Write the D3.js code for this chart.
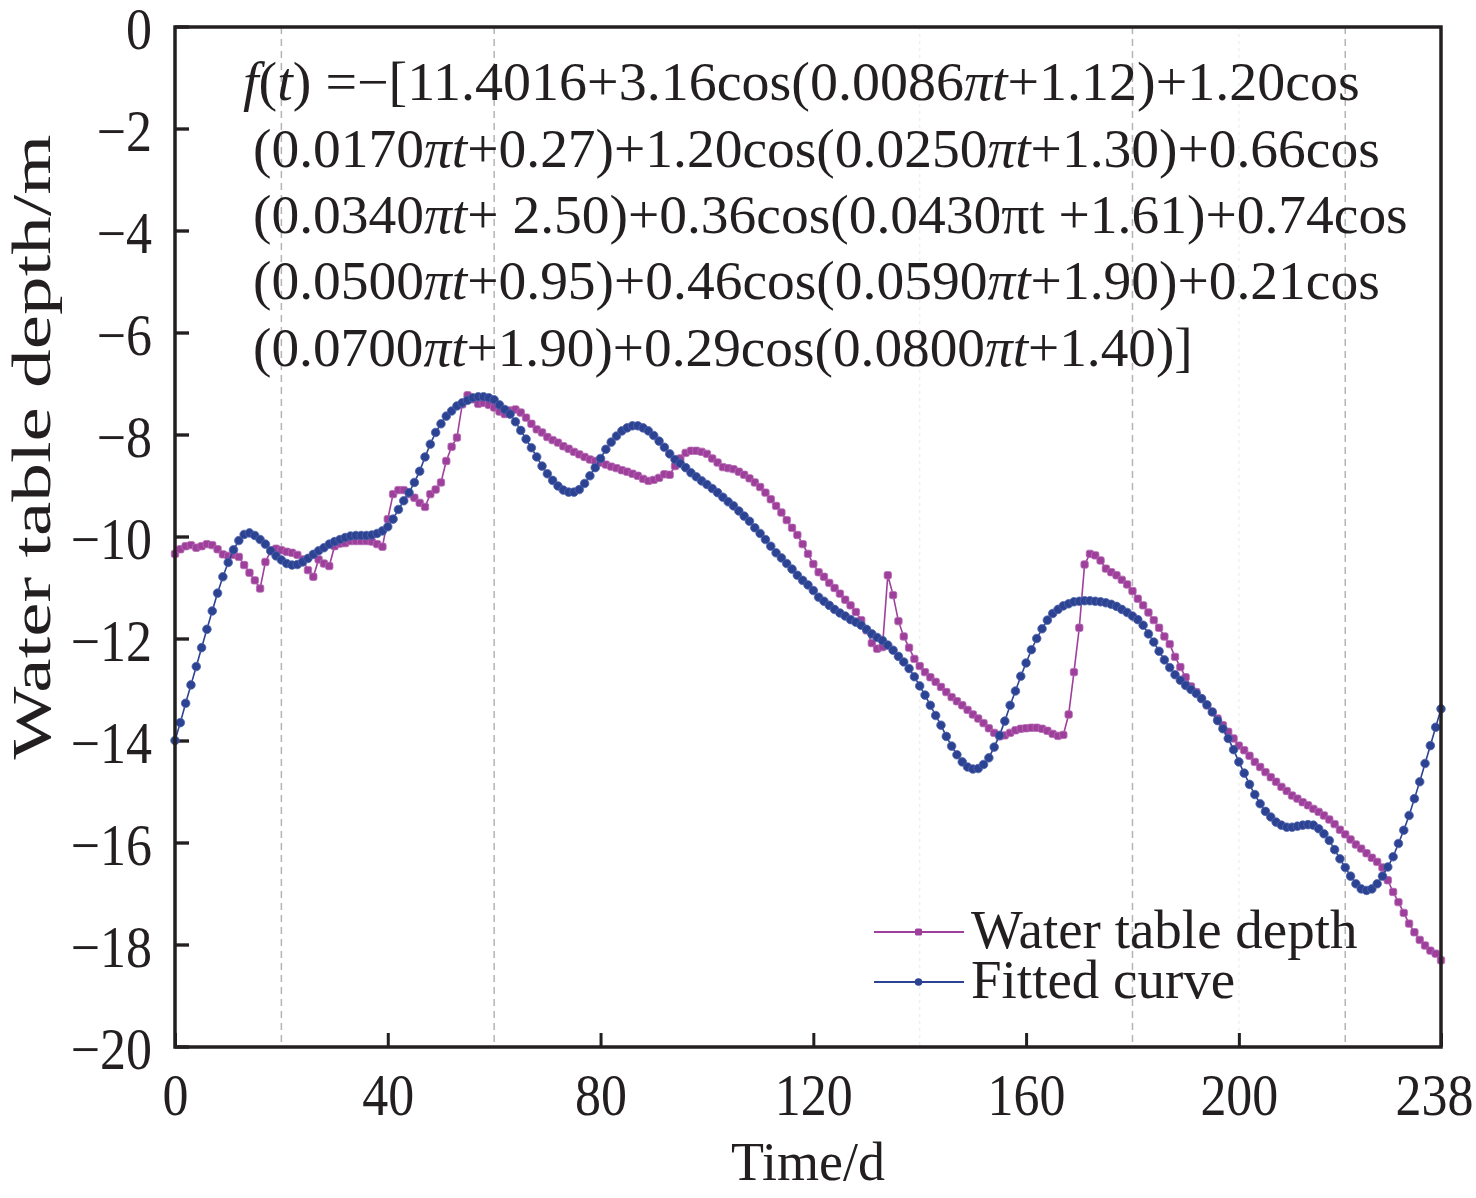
<!DOCTYPE html>
<html>
<head>
<meta charset="utf-8">
<script src="https://cdn.jsdelivr.net/npm/d3@7"></script>
<style>
  body { margin: 0; background: #fff; }
  text { font-family: "Liberation Serif", "Times New Roman", serif; fill: #231f20; }
</style>
</head>
<body>
<svg id="chart" width="1476" height="1198"></svg>
<script>
// observed water table depth, one value per day (t = 0..238)
const depth = [
  -10.33, -10.24, -10.18, -10.16, -10.21, -10.18, -10.14, -10.16, -10.24, -10.34,
  -10.37, -10.35, -10.39, -10.55, -10.70, -10.85, -11.01, -10.49, -10.27, -10.23,
  -10.26, -10.29, -10.31, -10.35, -10.44, -10.65, -10.78, -10.44, -10.52, -10.57,
  -10.18, -10.13, -10.12, -10.08, -10.08, -10.08, -10.08, -10.09, -10.14, -10.19,
  -9.65, -9.16, -9.08, -9.08, -9.16, -9.23, -9.33, -9.41, -9.16, -9.07,
  -8.93, -8.51, -8.23, -8.05, -7.40, -7.22, -7.30, -7.39, -7.37, -7.41,
  -7.46, -7.54, -7.59, -7.52, -7.50, -7.56, -7.66, -7.78, -7.89, -7.95,
  -8.04, -8.10, -8.15, -8.22, -8.27, -8.33, -8.38, -8.43, -8.48, -8.51,
  -8.54, -8.58, -8.62, -8.65, -8.69, -8.72, -8.76, -8.80, -8.86, -8.90,
  -8.88, -8.84, -8.77, -8.78, -8.61, -8.46, -8.35, -8.31, -8.31, -8.33,
  -8.37, -8.46, -8.54, -8.63, -8.65, -8.67, -8.72, -8.78, -8.85, -8.93,
  -9.02, -9.13, -9.26, -9.39, -9.52, -9.67, -9.82, -9.96, -10.14, -10.33,
  -10.53, -10.69, -10.78, -10.90, -11.00, -11.11, -11.23, -11.34, -11.47, -11.63,
  -11.83, -12.08, -12.19, -12.16, -10.75, -11.14, -11.65, -11.95, -12.17, -12.39,
  -12.53, -12.65, -12.75, -12.84, -12.94, -13.04, -13.14, -13.22, -13.30, -13.39,
  -13.48, -13.56, -13.65, -13.75, -13.84, -13.91, -13.89, -13.84, -13.79, -13.76,
  -13.75, -13.74, -13.74, -13.76, -13.80, -13.86, -13.90, -13.88, -13.48, -12.65,
  -11.78, -10.54, -10.33, -10.36, -10.46, -10.62, -10.69, -10.75, -10.84, -10.93,
  -11.06, -11.21, -11.34, -11.48, -11.63, -11.78, -11.95, -12.10, -12.35, -12.55,
  -12.75, -12.93, -13.04, -13.17, -13.30, -13.43, -13.56, -13.69, -13.82, -13.95,
  -14.09, -14.18, -14.29, -14.41, -14.51, -14.61, -14.71, -14.80, -14.90, -14.98,
  -15.07, -15.13, -15.20, -15.26, -15.33, -15.39, -15.46, -15.54, -15.63, -15.74,
  -15.83, -15.93, -16.03, -16.11, -16.20, -16.29, -16.37, -16.48, -16.73, -16.96,
  -17.16, -17.37, -17.58, -17.75, -17.90, -18.01, -18.11, -18.17, -18.30
];

// fitted curve, t = 0..238
const fitted = [
  -13.99, -13.64, -13.26, -12.90, -12.54, -12.17, -11.81, -11.45, -11.10, -10.78,
  -10.50, -10.25, -10.07, -9.95, -9.92, -9.97, -10.05, -10.14, -10.27, -10.37,
  -10.45, -10.52, -10.55, -10.54, -10.49, -10.42, -10.34, -10.27, -10.21, -10.14,
  -10.09, -10.05, -10.01, -9.98, -9.97, -9.97, -9.97, -9.96, -9.93, -9.88,
  -9.80, -9.65, -9.46, -9.29, -9.13, -8.93, -8.71, -8.43, -8.18, -7.95,
  -7.78, -7.63, -7.53, -7.43, -7.37, -7.32, -7.27, -7.25, -7.25, -7.27,
  -7.31, -7.41, -7.50, -7.59, -7.74, -7.91, -8.08, -8.25, -8.43, -8.61,
  -8.76, -8.89, -9.00, -9.08, -9.12, -9.12, -9.07, -8.95, -8.80, -8.64,
  -8.46, -8.28, -8.14, -8.02, -7.92, -7.86, -7.82, -7.82, -7.86, -7.92,
  -8.01, -8.12, -8.24, -8.37, -8.48, -8.56, -8.64, -8.74, -8.82, -8.90,
  -8.97, -9.05, -9.13, -9.22, -9.31, -9.39, -9.49, -9.59, -9.69, -9.82,
  -9.93, -10.05, -10.18, -10.31, -10.41, -10.52, -10.63, -10.75, -10.85, -10.94,
  -11.05, -11.18, -11.26, -11.34, -11.42, -11.49, -11.55, -11.62, -11.67, -11.73,
  -11.81, -11.90, -11.97, -12.03, -12.12, -12.22, -12.34, -12.45, -12.58, -12.74,
  -12.92, -13.10, -13.30, -13.50, -13.69, -13.91, -14.10, -14.27, -14.41, -14.51,
  -14.55, -14.54, -14.46, -14.33, -14.12, -13.89, -13.61, -13.30, -13.02, -12.73,
  -12.47, -12.21, -11.99, -11.80, -11.63, -11.50, -11.42, -11.35, -11.31, -11.27,
  -11.26, -11.25, -11.25, -11.26, -11.27, -11.29, -11.32, -11.36, -11.42, -11.48,
  -11.55, -11.62, -11.73, -11.90, -12.06, -12.24, -12.41, -12.56, -12.70, -12.81,
  -12.91, -12.99, -13.07, -13.17, -13.29, -13.43, -13.60, -13.76, -13.95, -14.17,
  -14.41, -14.63, -14.85, -15.05, -15.23, -15.38, -15.49, -15.59, -15.65, -15.69,
  -15.69, -15.67, -15.65, -15.64, -15.65, -15.72, -15.82, -15.95, -16.13, -16.31,
  -16.48, -16.65, -16.80, -16.90, -16.93, -16.90, -16.80, -16.65, -16.47, -16.27,
  -16.01, -15.75, -15.46, -15.13, -14.80, -14.44, -14.09, -13.73, -13.37
];

const xTicks = [0, 40, 80, 120, 160, 200, 238];
const yTicks = [0, -2, -4, -6, -8, -10, -12, -14, -16, -18, -20];
const dashedGrid = [20, 60, 180, 220];
const faintGrid = [140, 200];
const seriesNames = ['Water table depth', 'Fitted curve'];

// equation lines: [text, italic]
const eqLines = [
  [['f', 1], ['(', 0], ['t', 1], [') =\u2212[11.4016+3.16cos(0.0086', 0], ['\u03c0t', 1], ['+1.12)+1.20cos', 0]],
  [['(0.0170', 0], ['\u03c0t', 1], ['+0.27)+1.20cos(0.0250', 0], ['\u03c0t', 1], ['+1.30)+0.66cos', 0]],
  [['(0.0340', 0], ['\u03c0t', 1], ['+ 2.50)+0.36cos(0.0430\u03c0t +1.61)+0.74cos', 0]],
  [['(0.0500', 0], ['\u03c0t', 1], ['+0.95)+0.46cos(0.0590', 0], ['\u03c0t', 1], ['+1.90)+0.21cos', 0]],
  [['(0.0700', 0], ['\u03c0t', 1], ['+1.90)+0.29cos(0.0800', 0], ['\u03c0t', 1], ['+1.40)]', 0]]
];

const svg = d3.select('#chart');
const margin = { top: 27, right: 35, bottom: 151, left: 175 };
const width = +svg.attr('width');
const height = +svg.attr('height');
const innerWidth = width - margin.left - margin.right;
const innerHeight = height - margin.top - margin.bottom;

const purple = '#9e3f9c';
const blue = '#2c4293';
const ink = '#231f20';

const xScale = d3.scaleLinear().domain([0, 238]).range([0, innerWidth]);
const yScale = d3.scaleLinear().domain([-20, 0]).range([innerHeight, 0]);

const g = svg.append('g')
  .attr('transform', `translate(${margin.left},${margin.top})`);

// vertical guide lines
g.selectAll('.grid-dash').data(dashedGrid)
  .enter().append('line')
    .attr('class', 'grid-dash')
    .attr('x1', d => xScale(d)).attr('x2', d => xScale(d))
    .attr('y1', 0).attr('y2', innerHeight)
    .attr('stroke', '#b4b4b4')
    .attr('stroke-width', 1.5)
    .attr('stroke-dasharray', '7,5');

g.selectAll('.grid-faint').data(faintGrid)
  .enter().append('line')
    .attr('class', 'grid-faint')
    .attr('x1', d => xScale(d)).attr('x2', d => xScale(d))
    .attr('y1', 0).attr('y2', innerHeight)
    .attr('stroke', '#ececec')
    .attr('stroke-width', 1.2)
    .attr('stroke-dasharray', '3,4');

// axes, ticks point inward; labels a little taller than plain Times
const minus = d => d < 0 ? '\u2212' + Math.abs(d) : String(d);

const xAxis = d3.axisBottom(xScale)
  .tickValues(xTicks)
  .tickSizeInner(-14)
  .tickSizeOuter(0)
  .tickPadding(24)
  .tickFormat(d => d);

const xAxisG = g.append('g')
  .attr('transform', `translate(0,${innerHeight})`)
  .call(xAxis);
xAxisG.select('.domain').remove();
xAxisG.selectAll('line').attr('stroke', ink).attr('stroke-width', 3);
xAxisG.selectAll('text')
  .attr('transform', 'scale(1,1.12)')
  .attr('dx', d => d === 238 ? -7 : 0)
  .style('font-size', '52px')
  .style('font-family', '"Liberation Serif", serif')
  .attr('fill', ink);

const yAxis = d3.axisLeft(yScale)
  .tickValues(yTicks)
  .tickSizeInner(-14)
  .tickSizeOuter(0)
  .tickPadding(23)
  .tickFormat(minus);

const yAxisG = g.append('g').call(yAxis);
yAxisG.select('.domain').remove();
yAxisG.selectAll('line').attr('stroke', ink).attr('stroke-width', 3);
yAxisG.selectAll('text')
  .attr('dy', '0.38em')
  .style('font-size', '52px')
  .style('font-family', '"Liberation Serif", serif')
  .attr('fill', ink);
// stretch each label vertically about its own tick
yAxisG.selectAll('.tick')
  .attr('transform', d => `translate(0,${yScale(d)}) scale(1,1.12)`);

// series
const depthPts = depth.map((v, i) => ({ t: i, v }));
const fittedPts = fitted.map((v, i) => ({ t: i, v }));

const line = d3.line()
  .x(d => xScale(d.t))
  .y(d => yScale(d.v));

g.append('path')
  .datum(depthPts)
  .attr('fill', 'none')
  .attr('stroke', purple)
  .attr('stroke-width', 1.6)
  .attr('d', line);

g.selectAll('.pt-depth').data(depthPts)
  .enter().append('rect')
    .attr('class', 'pt-depth')
    .attr('x', d => xScale(d.t) - 3.7)
    .attr('y', d => yScale(d.v) - 3.7)
    .attr('width', 7.4)
    .attr('height', 7.4)
    .attr('rx', 2)
    .attr('fill', purple)
    .attr('stroke', '#b46cb2')
    .attr('stroke-width', 0.8);

g.append('path')
  .datum(fittedPts)
  .attr('fill', 'none')
  .attr('stroke', blue)
  .attr('stroke-width', 1.6)
  .attr('d', line);

g.selectAll('.pt-fit').data(fittedPts)
  .enter().append('circle')
    .attr('class', 'pt-fit')
    .attr('cx', d => xScale(d.t))
    .attr('cy', d => yScale(d.v))
    .attr('r', 4.3)
    .attr('fill', blue)
    .attr('stroke', '#5266ab')
    .attr('stroke-width', 0.8);

// frame
g.append('rect')
  .attr('width', innerWidth)
  .attr('height', innerHeight)
  .attr('fill', 'none')
  .attr('stroke', ink)
  .attr('stroke-width', 3.5);

// equation, stretched to the widths seen in the figure
const eqX = [68, 78, 78, 78, 78];
const eqY = [73, 140, 206, 272, 339];
const eqW = [1117, 1127, 1155, 1127, 940];
eqLines.forEach((parts, i) => {
  const txt = g.append('text')
    .style('font-size', '54px');
  parts.forEach(([s, it]) => {
    txt.append('tspan')
      .style('font-style', it ? 'italic' : 'normal')
      .text(s);
  });
  const w = txt.node().getComputedTextLength();
  txt.attr('transform', `translate(${eqX[i]},${eqY[i]}) scale(${eqW[i] / w},1)`);
});

// legend
const legend = g.append('g')
  .attr('transform', `translate(${699},${905})`);
seriesNames.forEach((name, i) => {
  const row = legend.append('g').attr('transform', `translate(0,${i * 50})`);
  row.append('line')
    .attr('x1', 0).attr('x2', 90)
    .attr('stroke', i === 0 ? purple : blue)
    .attr('stroke-width', 2);
  if (i === 0) {
    row.append('rect')
      .attr('x', 41).attr('y', -3.5).attr('width', 7).attr('height', 7).attr('rx', 1.5)
      .attr('fill', purple);
  } else {
    row.append('circle')
      .attr('cx', 44.5).attr('r', 3.8)
      .attr('fill', blue);
  }
  row.append('text')
    .attr('x', 97)
    .attr('y', 16)
    .style('font-size', '55px')
    .text(name);
});

// axis titles
svg.append('text')
  .attr('x', margin.left + innerWidth / 2)
  .attr('y', 1180)
  .attr('text-anchor', 'middle')
  .style('font-size', '54px')
  .text('Time/d');

const yTitle = svg.append('text')
  .attr('text-anchor', 'middle')
  .style('font-size', '54px')
  .text('Water table depth/m');
const yw = yTitle.node().getComputedTextLength();
yTitle.attr('transform', `translate(50,447) rotate(-90) scale(${625 / yw},1)`);
</script>
</body>
</html>
